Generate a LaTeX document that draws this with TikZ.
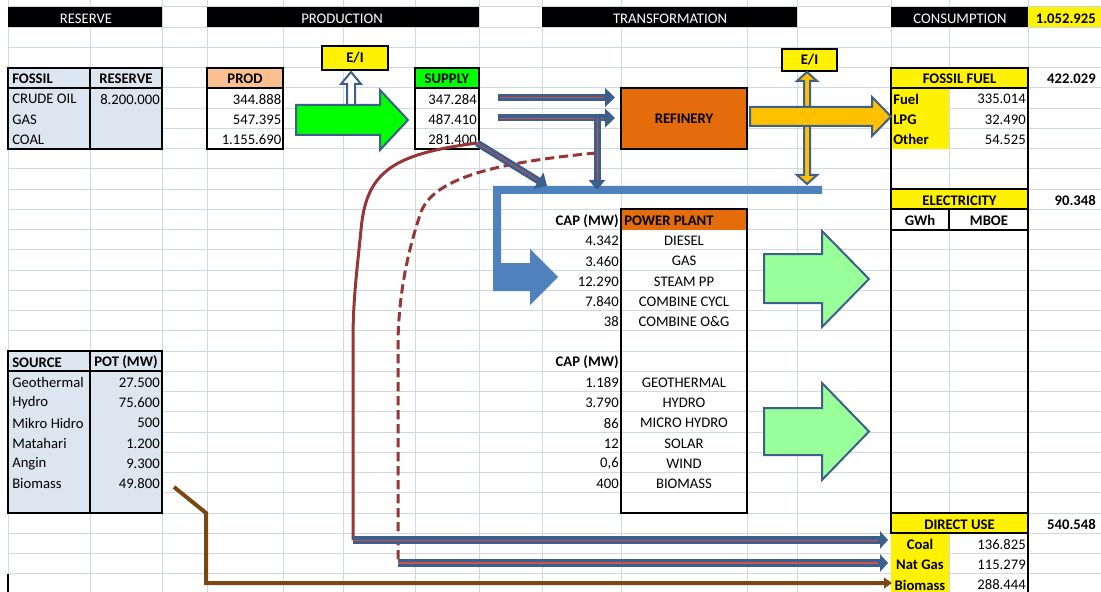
\documentclass[tikz,border=0pt]{standalone}
\usepackage{fontspec}
\setmainfont{Carlito}
\usetikzlibrary{arrows.meta,positioning}

\definecolor{gridc}{HTML}{D0D7E5}
\definecolor{tblue}{HTML}{DCE6F1}
\definecolor{peach}{HTML}{FAC090}
\definecolor{orng}{HTML}{E46C0A}
\definecolor{dkblue}{HTML}{3D5F8C}
\definecolor{ltblue}{HTML}{4F81BD}
\definecolor{redc}{HTML}{D0504D}
\definecolor{curvec}{HTML}{953735}
\definecolor{brn}{HTML}{7A4612}
\definecolor{lgreen}{HTML}{99FF99}
\definecolor{gold}{HTML}{FFC000}

% row edge, counted from the top bar
\newcommand{\ry}[1]{7+20.24*(#1)}

\tikzset{
  gridln/.style={draw=gridc,line width=0.75pt},
  cell/.style={inner sep=0pt,yshift=-0.9pt,font=\fontsize{11}{13}\selectfont},
  lft/.style={cell,anchor=west},
  rgt/.style={cell,anchor=east},
  bcell/.style={cell,font=\fontsize{11}{13}\selectfont\bfseries},
  blft/.style={bcell,anchor=west},
  brgt/.style={bcell,anchor=east},
  hbar/.style={cell,text=white},
  tbl/.style={draw=black,line width=1.5pt},
  eibox/.style={draw=black,line width=1.5pt,fill=yellow,inner sep=0pt,
    font=\fontsize{11}{13}\selectfont\bfseries},
  blockarr/.style={draw=dkblue,line width=1.5pt,line join=miter},
  pipe/.style={draw=dkblue,line width=5.25pt,-{Triangle[length=7.5pt,width=14pt]}},
  pipecore/.style={draw=redc,line width=0.6pt},
  curvln/.style={draw=curvec,line width=2.25pt},
  biolink/.style={draw=brn,line width=3pt,-{Triangle[length=6pt,width=8pt]}},
}

\begin{document}
\begin{tikzpicture}[x=0.75pt,y=-0.75pt]
\useasboundingbox (0,0) rectangle (1101,592);

% sheet grid
\foreach \k in {0,...,29}
  \draw[gridln] (8,{\ry{\k}}) -- (1101,{\ry{\k}});
\foreach \c in {8,90,162,207,283,343,415,479,542,621,747,797,891,949,1028}
  \draw[gridln] (\c,0) -- (\c,592);

% top bars
\fill[black] (8,{\ry{0}}) rectangle (162,{\ry{1}});
\fill[black] (207,{\ry{0}}) rectangle (479,{\ry{1}});
\fill[black] (542,{\ry{0}}) rectangle (797,{\ry{1}});
\fill[black] (891,{\ry{0}}) rectangle (1028,{\ry{1}});
\fill[yellow] (1028,{\ry{0}}) rectangle (1101,{\ry{1}});
\node[hbar] (hres) at (86,{\ry{0.5}}) {RESERVE};
\node[hbar] (hprod) at (342,{\ry{0.5}}) {PRODUCTION};
\node[hbar] (htrans) at (670,{\ry{0.5}}) {TRANSFORMATION};
\node[hbar] (hcons) at (960,{\ry{0.5}}) {CONSUMPTION};
\node[brgt] (tcons) at (1096,{\ry{0.5}}) {1.052.925};

% fossil reserve
\fill[tblue] (8,{\ry{3}}) rectangle (162,{\ry{7}});
\draw[tbl] (8,{\ry{3}}) rectangle (162,{\ry{7}});
\draw[tbl] (8,{\ry{4}}) -- (162,{\ry{4}}) (90,{\ry{3}}) -- (90,{\ry{7}});
\node[blft] (fhd) at (12,{\ry{3.5}}) {FOSSIL};
\node[bcell] (rhd) at (126,{\ry{3.5}}) {RESERVE};
\foreach \lab/\val [count=\i] in {CRUDE OIL/8.200.000,GAS/,COAL/}{
  \node[lft] (fl\i) at (12,{\ry{3.5+\i}}) {\lab};
  \node[rgt] (fv\i) at (160,{\ry{3.5+\i}}) {\val};
}

% production
\fill[peach] (207,{\ry{3}}) rectangle (283,{\ry{4}});
\draw[tbl] (207,{\ry{3}}) rectangle (283,{\ry{7}});
\draw[tbl] (207,{\ry{4}}) -- (283,{\ry{4}});
\node[bcell] (phd) at (245,{\ry{3.5}}) {PROD};
\foreach \v [count=\i] in {344.888,547.395,1.155.690}
  \node[rgt] (pv\i) at (281.5,{\ry{3.5+\i}}) {\v};

% supply
\fill[green] (415,{\ry{3}}) rectangle (479,{\ry{4}});
\draw[tbl] (415,{\ry{3}}) rectangle (479,{\ry{7}});
\draw[tbl] (415,{\ry{4}}) -- (479,{\ry{4}});
\node[bcell] (shd) at (447,{\ry{3.5}}) {SUPPLY};
\foreach \v [count=\i] in {347.284,487.410,281.400}
  \node[rgt] (sv\i) at (477,{\ry{3.5+\i}}) {\v};

% renewable sources
\fill[tblue] (8,{\ry{17}}) rectangle (162,{\ry{25}});
\draw[tbl] (8,{\ry{17}}) rectangle (162,{\ry{25}});
\draw[tbl] (8,{\ry{18}}) -- (162,{\ry{18}}) (90,{\ry{17}}) -- (90,{\ry{25}});
\node[blft] (srchd) at (12,{\ry{17.5}}) {SOURCE};
\node[bcell] (pothd) at (126,{\ry{17.5}}) {POT (MW)};
\foreach \lab/\val [count=\i] in {Geothermal/27.500,Hydro/75.600,Mikro Hidro/500,
    Matahari/1.200,Angin/9.300,Biomass/49.800}{
  \node[lft] (sl\i) at (12,{\ry{17.5+\i}}) {\lab};
  \node[rgt] (sp\i) at (160,{\ry{17.5+\i}}) {\val};
}
\draw[tbl] (8,{\ry{28}}) -- (8,592);

% power plants
\fill[orng] (621,{\ry{10}}) rectangle (747,{\ry{11}});
\draw[tbl] (621,{\ry{10}}) rectangle (747,{\ry{25}});
\node[blft] (pphd) at (624,{\ry{10.5}}) {POWER PLANT};
\node[brgt] (cap1) at (619,{\ry{10.5}}) {CAP (MW)};
\foreach \c/\n [count=\i] in {4.342/DIESEL,3.460/GAS,12.290/STEAM PP,
    7.840/COMBINE CYCL,38/COMBINE O\&G}{
  \node[rgt] (pc\i) at (619,{\ry{10.5+\i}}) {\c};
  \node[cell] (pn\i) at (684,{\ry{10.5+\i}}) {\n};
}
\node[brgt] (cap2) at (619,{\ry{17.5}}) {CAP (MW)};
\foreach \c/\n [count=\i] in {1.189/GEOTHERMAL,3.790/HYDRO,86/MICRO HYDRO,
    12/SOLAR,{0,6}/WIND,400/BIOMASS}{
  \node[rgt] (rc\i) at (619,{\ry{17.5+\i}}) {\c};
  \node[cell] (rn\i) at (684,{\ry{17.5+\i}}) {\n};
}

% consumption: fossil fuel
\fill[yellow] (891,{\ry{3}}) rectangle (1028,{\ry{4}});
\fill[yellow] (891,{\ry{4}}) rectangle (949,{\ry{7}});
\draw[tbl] (891,{\ry{3}}) rectangle (1028,{\ry{9}});
\draw[tbl] (891,{\ry{4}}) -- (1028,{\ry{4}});
\node[bcell] (ffhd) at (959.5,{\ry{3.5}}) {FOSSIL FUEL};
\node[brgt] (fftot) at (1096,{\ry{3.5}}) {422.029};
\foreach \lab/\val [count=\i] in {Fuel/335.014,LPG/32.490,Other/54.525}{
  \node[blft] (ffl\i) at (893,{\ry{3.5+\i}}) {\lab};
  \node[rgt] (ffv\i) at (1026,{\ry{3.5+\i}}) {\val};
}

% consumption: electricity
\fill[yellow] (891,{\ry{9}}) rectangle (1028,{\ry{10}});
\draw[tbl] (891,{\ry{9}}) rectangle (1028,{\ry{11}});
\draw[tbl] (891,{\ry{10}}) -- (1028,{\ry{10}}) (949,{\ry{10}}) -- (949,{\ry{11}});
\draw[tbl] (891,{\ry{11}}) -- (891,{\ry{25}}) (1028,{\ry{11}}) -- (1028,{\ry{25}});
\node[bcell] (elhd) at (959.5,{\ry{9.5}}) {ELECTRICITY};
\node[brgt] (eltot) at (1096,{\ry{9.5}}) {90.348};
\node[bcell] (gwh) at (920,{\ry{10.5}}) {GWh};
\node[bcell] (mboe) at (989,{\ry{10.5}}) {MBOE};

% consumption: direct use
\fill[yellow] (891,{\ry{25}}) rectangle (1028,{\ry{26}});
\fill[yellow] (891,{\ry{26}}) rectangle (949,592);
\draw[tbl] (891,{\ry{25}}) rectangle (1028,{\ry{26}});
\draw[tbl] (1028,{\ry{26}}) -- (1028,592);
\node[bcell] (duhd) at (959.5,{\ry{25.5}}) {DIRECT USE};
\node[brgt] (dutot) at (1096,{\ry{25.5}}) {540.548};
\foreach \lab/\val [count=\i] in {Coal/136.825,Nat Gas/115.279,Biomass/288.444}{
  \node[bcell] (dl\i) at (920,{\ry{25.5+\i}}) {\lab};
  \node[rgt] (dv\i) at (1026,{\ry{25.5+\i}}) {\val};
}

% refinery and export/import boxes
\node[draw=black,line width=1.5pt,fill=orng,minimum width=94.5pt,minimum height=45.5pt,
  bcell,yshift=0.9pt] (ref) at (684,{\ry{5.5}}) {REFINERY};
\node[eibox,minimum width=49.5pt,minimum height=18pt] (ei1) at (355,58) {E/I};
\node[eibox,minimum width=41.25pt,minimum height=16.5pt] (ei2) at (809.5,60) {E/I};

% production -> supply
\draw[blockarr,fill=green] (296,105) -- (380,105) -- (380,90) -- (408,120)
  -- (380,150) -- (380,135) -- (296,135) -- cycle;
\draw[blockarr,fill=white] (347,105) -- (347,84) -- (341,84) -- (351,72)
  -- (361,84) -- (355,84) -- (355,105) -- cycle;

% feed to the power plants
\fill[ltblue] (822,186) -- (493,186) -- (493,291) -- (530,291) -- (530,305)
  -- (558,277) -- (530,249) -- (530,263) -- (501,263) -- (501,194) -- (822,194) -- cycle;

% coal and gas taken to direct use
\coordinate (coalbend) at (353,540);
\coordinate (gasbend) at (398,563);
\coordinate (jn) at (597,118);
\coordinate (cs) at (477,143);
\draw[curvln] (cs) .. controls (395,154) and (366,170) .. (361,230)
  .. controls (357,270) and (353,300) .. (353,340) -- (coalbend);
\draw[curvln,dash pattern=on 7pt off 3.5pt] (596,153) .. controls (490,163) and (430,180)
  .. (420,215) .. controls (405,260) and (399,300) .. (398,340) -- (gasbend);

% supply -> refinery / power plants
\foreach \i/\yy in {1/97.5,2/118}{
  \draw[pipe] (498,\yy) -- (615,\yy);
  \draw[pipecore] (500,\yy) -- (604,\yy);
}
\draw[pipe,-{Triangle[length=7.5pt,width=12pt]}] (jn) -- (597,190);
\draw[pipecore] (jn) -- (597,180);
\draw[pipe] (cs) -- (547,186);
\draw[pipecore,shorten >=9pt] (cs) -- (547,186);

\draw[pipe,line width=6pt,-{Triangle[length=6pt,width=13pt]}] (coalbend) -- (coalbend -| 888,0);
\draw[pipecore] (coalbend) -- (coalbend -| 878,0);
\draw[pipe,line width=6pt,-{Triangle[length=6pt,width=13pt]}] (gasbend) -- (gasbend -| 888,0);
\draw[pipecore,line width=1.5pt] (gasbend) -- (gasbend -| 878,0);

% biomass -> direct use
\draw[biolink] (174,487) -- (206,513) -- (206,583) -- (892,583);

% refinery -> fossil fuel, export/import
\draw[blockarr,fill=gold] (804,107) -- (804,81) -- (797,81) -- (807,72)
  -- (817,81) -- (810,81) -- (810,107) -- cycle;
\draw[blockarr,fill=gold] (804,126) -- (804,175) -- (797,175) -- (807,184)
  -- (817,175) -- (810,175) -- (810,126) -- cycle;
\draw[blockarr,fill=gold] (750,107) -- (872,107) -- (872,97) -- (891,116.5)
  -- (872,136) -- (872,126) -- (750,126) -- cycle;

% power plants -> electricity
\draw[blockarr,fill=lgreen] (764,254) -- (822,254) -- (822,231) -- (869,279)
  -- (822,327) -- (822,303) -- (764,303) -- cycle;
\draw[blockarr,fill=lgreen] (764,408) -- (822,408) -- (822,383) -- (869,431.5)
  -- (822,480) -- (822,455) -- (764,455) -- cycle;
\end{tikzpicture}
\end{document}
